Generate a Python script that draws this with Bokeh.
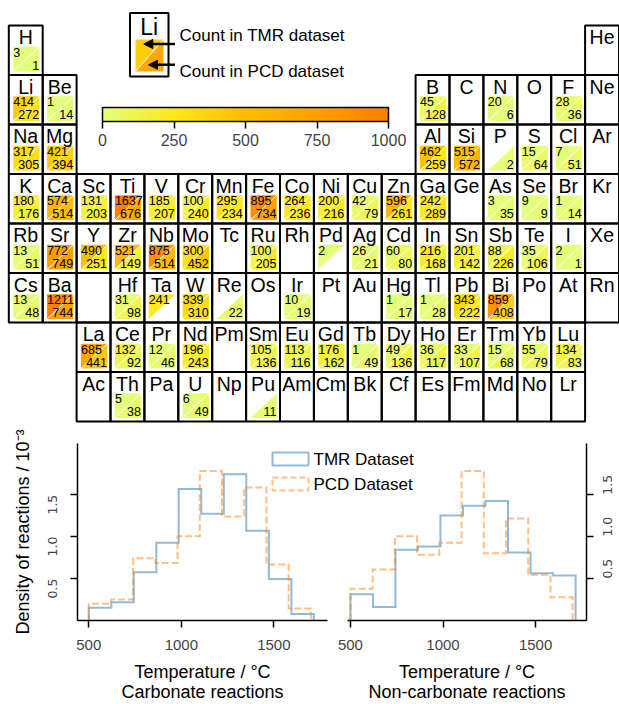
import math
import numpy as np
from bokeh.plotting import figure
from bokeh.models import (Range1d, ColumnDataSource, LinearColorMapper, ColorBar,
                          FixedTicker, Arrow, NormalHead, PrintfTickFormatter)
from bokeh.layouts import column, row
from bokeh.core.properties import value
from bokeh.embed import file_html
from bokeh.resources import INLINE

FONT = "Liberation Sans"

# ---------------- data ----------------
table_rows = [
    ["H"] + [""] * 16 + ["He"],
    ["Li", "Be"] + [""] * 10 + ["B", "C", "N", "O", "F", "Ne"],
    ["Na", "Mg"] + [""] * 10 + ["Al", "Si", "P", "S", "Cl", "Ar"],
    ["K", "Ca", "Sc", "Ti", "V", "Cr", "Mn", "Fe", "Co", "Ni", "Cu", "Zn", "Ga", "Ge", "As", "Se", "Br", "Kr"],
    ["Rb", "Sr", "Y", "Zr", "Nb", "Mo", "Tc", "Ru", "Rh", "Pd", "Ag", "Cd", "In", "Sn", "Sb", "Te", "I", "Xe"],
    ["Cs", "Ba", " ", "Hf", "Ta", "W", "Re", "Os", "Ir", "Pt", "Au", "Hg", "Tl", "Pb", "Bi", "Po", "At", "Rn"],
    ["", "", "La", "Ce", "Pr", "Nd", "Pm", "Sm", "Eu", "Gd", "Tb", "Dy", "Ho", "Er", "Tm", "Yb", "Lu", ""],
    ["", "", "Ac", "Th", "Pa", "U", "Np", "Pu", "Am", "Cm", "Bk", "Cf", "Es", "Fm", "Md", "No", "Lr", ""],
]

tmr_counts = {
    "H": 3, "Li": 414, "Be": 1, "Na": 317, "Mg": 421, "B": 45, "N": 20, "F": 28,
    "Al": 462, "Si": 515, "S": 15, "Cl": 7,
    "K": 180, "Ca": 574, "Sc": 131, "Ti": 1637, "V": 185, "Cr": 100, "Mn": 295, "Fe": 895,
    "Co": 264, "Ni": 200, "Cu": 42, "Zn": 596, "Ga": 242, "As": 3, "Se": 9, "Br": 1,
    "Rb": 13, "Sr": 772, "Y": 490, "Zr": 521, "Nb": 875, "Mo": 300, "Ru": 100, "Pd": 2,
    "Ag": 26, "Cd": 60, "In": 216, "Sn": 201, "Sb": 88, "Te": 35, "I": 2,
    "Cs": 13, "Ba": 1211, "Hf": 31, "Ta": 241, "W": 339, "Ir": 10, "Hg": 1, "Tl": 1,
    "Pb": 343, "Bi": 859,
    "La": 685, "Ce": 132, "Pr": 12, "Nd": 196, "Sm": 105, "Eu": 113, "Gd": 176, "Tb": 1,
    "Dy": 49, "Ho": 36, "Er": 33, "Tm": 15, "Yb": 55, "Lu": 134,
    "Th": 5, "U": 6,
}
pcd_counts = {
    "H": 1, "Li": 272, "Be": 14, "Na": 305, "Mg": 394, "B": 128, "N": 6, "F": 36,
    "Al": 259, "Si": 572, "P": 2, "S": 64, "Cl": 51,
    "K": 176, "Ca": 514, "Sc": 203, "Ti": 676, "V": 207, "Cr": 240, "Mn": 234, "Fe": 734,
    "Co": 236, "Ni": 216, "Cu": 79, "Zn": 261, "Ga": 289, "As": 35, "Se": 9, "Br": 14,
    "Rb": 51, "Sr": 749, "Y": 251, "Zr": 149, "Nb": 514, "Mo": 452, "Ru": 205,
    "Ag": 21, "Cd": 80, "In": 168, "Sn": 142, "Sb": 226, "Te": 106, "I": 1,
    "Cs": 48, "Ba": 744, "Hf": 98, "W": 310, "Re": 22, "Ir": 19, "Hg": 17, "Tl": 28,
    "Pb": 222, "Bi": 408,
    "La": 441, "Ce": 92, "Pr": 46, "Nd": 243, "Sm": 136, "Eu": 116, "Gd": 162, "Tb": 49,
    "Dy": 136, "Ho": 117, "Er": 107, "Tm": 68, "Yb": 79, "Lu": 83,
    "Th": 38, "U": 49, "Pu": 11,
}
colorbar_ticks = [0, 250, 500, 750, 1000]
key_tmr_value = 400
key_pcd_value = 700

series_labels = ["TMR Dataset", "PCD Dataset"]
temp_ticks = [500, 1000, 1500]
density_ticks = [0.5, 1.0, 1.5]
tmr_edges = [500, 622, 743, 865, 986, 1108, 1230, 1351, 1473, 1595, 1716]
pcd_edges = [500, 620, 740, 860, 980, 1100, 1220, 1340, 1460, 1580, 1700]
carb_tmr = [0.153, 0.218, 0.575, 0.927, 1.567, 1.272, 1.743, 1.069, 0.494, 0.077]
carb_pcd = [0.199, 0.249, 0.743, 0.686, 1.004, 1.782, 1.241, 1.586, 0.667, 0.142]
noncarb_tmr = [0.314, 0.161, 0.843, 0.881, 1.253, 1.368, 1.425, 0.812, 0.563, 0.536]
noncarb_pcd = [0.379, 0.609, 1.004, 0.785, 0.927, 1.782, 0.801, 1.215, 0.544, 0.276]

# Wistia colormap anchors
wistia_stops = [0.0, 0.25, 0.5, 0.75, 1.0]
wistia_r = [228, 255, 255, 255, 252]
wistia_g = [255, 232, 189, 160, 127]
wistia_b = [122, 26, 0, 0, 0]
palette = []
for t in np.linspace(0, 1, 256):
    palette.append("#%02x%02x%02x" % (int(round(np.interp(t, wistia_stops, wistia_r))),
                                      int(round(np.interp(t, wistia_stops, wistia_g))),
                                      int(round(np.interp(t, wistia_stops, wistia_b)))))
mapper = LinearColorMapper(palette=palette, low=0, high=1000)

TMR_C, PCD_C = "#1f77b4", "#ff7f0e"

# ---------------- periodic table (also hosts the histogram legend) ----------------
W_T, H_T = 619, 500
TABLE_H = 423
X0, Y0 = 8.3, 25.0
CW, RH = 33.9, 49.5

pt = figure(width=W_T, height=H_T, x_range=Range1d(0, W_T), y_range=Range1d(H_T, 0),
            x_axis_type=None, y_axis_type=None, min_border=0, toolbar_location=None,
            output_backend="svg", outline_line_color=None,
            background_fill_alpha=0, border_fill_alpha=0)

bord = dict(l=[], r=[], t=[], b=[])
sym = dict(x=[], y=[], text=[])
tri = dict(xs=[], ys=[], v=[])
tmr_t = dict(x=[], y=[], text=[])
pcd_t = dict(x=[], y=[], text=[])
diag = dict(x0=[], y0=[], x1=[], y1=[])

for r_i, syms in enumerate(table_rows):
    for c_i, s in enumerate(syms):
        if s == "":
            continue
        cx = X0 + c_i * CW
        ry = Y0 + r_i * RH
        bord["l"].append(cx); bord["r"].append(cx + CW)
        bord["t"].append(ry); bord["b"].append(ry + RH)
        if s.strip() == "":
            continue
        sym["x"].append(cx + CW / 2); sym["y"].append(ry + 11.7); sym["text"].append(s)
        sl, sr, st, sb = cx + 4.4, cx + 30.7, ry + 21.3, ry + 46.0
        t = tmr_counts.get(s)
        q = pcd_counts.get(s)
        if t is not None:
            tri["xs"].append([sl, sr, sl]); tri["ys"].append([st, st, sb]); tri["v"].append(t)
            tmr_t["x"].append(sl); tmr_t["y"].append(ry + 26.8); tmr_t["text"].append(str(t))
        if q is not None:
            tri["xs"].append([sr, sr, sl]); tri["ys"].append([st, sb, sb]); tri["v"].append(q)
            pcd_t["x"].append(sr - 0.3); pcd_t["y"].append(ry + 39.7); pcd_t["text"].append(str(q))
        if t is not None and q is not None:
            diag["x0"].append(sl); diag["y0"].append(sb); diag["x1"].append(sr); diag["y1"].append(st)

pt.patches(xs="xs", ys="ys", source=ColumnDataSource(tri),
           fill_color={"field": "v", "transform": mapper}, line_color=None)
pt.segment(x0="x0", y0="y0", x1="x1", y1="y1", source=ColumnDataSource(diag),
           line_color="white", line_width=1)
pt.text(x="x", y="y", text="text", source=ColumnDataSource(sym), text_font=value(FONT),
        text_font_size=value("19.5px"), text_align="center", text_baseline="middle",
        text_color="black")
pt.text(x="x", y="y", text="text", source=ColumnDataSource(tmr_t), text_font=value(FONT),
        text_font_size=value("12.5px"), text_align="left", text_baseline="middle",
        text_color="black")
pt.text(x="x", y="y", text="text", source=ColumnDataSource(pcd_t), text_font=value(FONT),
        text_font_size=value("12.5px"), text_align="right", text_baseline="middle",
        text_color="black")
pt.quad(left="l", right="r", top="t", bottom="b", source=ColumnDataSource(bord),
        fill_color=None, line_color="black", line_width=2)

# key box
kl, kr, kt, kb = 129.5, 168.0, 12.5, 76.0
ksl, ksr, kst, ksb = 135.0, 163.0, 39.0, 71.0
key_src = ColumnDataSource(dict(xs=[[ksl, ksr, ksl], [ksr, ksr, ksl]],
                                ys=[[kst, kst, ksb], [kst, ksb, ksb]],
                                v=[key_tmr_value, key_pcd_value]))
pt.patches(xs="xs", ys="ys", source=key_src,
           fill_color={"field": "v", "transform": mapper}, line_color=None)
pt.segment(x0=[ksl], y0=[ksb], x1=[ksr], y1=[kst], line_color="white", line_width=1)
pt.quad(left=[kl], right=[kr], top=[kt], bottom=[kb], fill_color=None,
        line_color="black", line_width=2)
pt.text(x=[(kl + kr) / 2], y=[26.8], text=["Li"], text_font=value(FONT),
        text_font_size=value("23px"), text_align="center", text_baseline="middle")
for ys_, xe in ((43.5, 143.3), (64.3, 148.0)):
    pt.add_layout(Arrow(end=NormalHead(size=9, fill_color="black", line_color="black"),
                        x_start=174.5, y_start=ys_, x_end=xe, y_end=ys_,
                        line_width=2.5, line_color="black"))
pt.text(x=[179, 179], y=[34.5, 71.0], text=["Count in TMR dataset", "Count in PCD dataset"],
        text_font=value(FONT), text_font_size=value("17px"), text_align="left",
        text_baseline="middle")

cb = ColorBar(color_mapper=mapper, orientation="horizontal", location=(102, H_T - 148),
              width=286, height=14, padding=0, margin=0,
              ticker=FixedTicker(ticks=colorbar_ticks), major_tick_in=0, major_tick_out=7,
              major_tick_line_color="black", major_tick_line_width=1.5,
              minor_tick_line_color=None, bar_line_color="black", bar_line_width=1.5,
              border_line_color=None, background_fill_alpha=0, label_standoff=5,
              major_label_text_font_size="16px", major_label_text_font=FONT)
pt.add_layout(cb, "center")

# histogram legend keys (this canvas overlaps the top of the histogram row)
leg_top = [452.0, 477.0]
leg_h = 13.0
pt.quad(left=[272.0], right=[308.0], top=[leg_top[0]], bottom=[leg_top[0] + leg_h],
        fill_color=None, line_color=TMR_C, line_alpha=0.5, line_width=2)
pt.quad(left=[272.0], right=[308.0], top=[leg_top[1]], bottom=[leg_top[1] + leg_h],
        fill_color=None, line_color=PCD_C, line_alpha=0.5, line_width=2, line_dash="6 3")
pt.text(x=[313.0, 313.0], y=[leg_top[0] + 6.5, leg_top[1] + 6.5], text=series_labels,
        text_font=value(FONT), text_font_size=value("17px"), text_align="left",
        text_baseline="middle", text_color="black")


# ---------------- histograms ----------------
def step_xy(edges, heights):
    xs, ys = [edges[0]], [0.0]
    for i, h in enumerate(heights):
        xs += [edges[i], edges[i + 1]]
        ys += [h, h]
    xs.append(edges[-1]); ys.append(0.0)
    return xs, ys


def style(p, y_side, subtitle):
    p.grid.visible = False
    for ax in p.axis:
        ax.axis_line_width = 1.5
        ax.major_tick_line_width = 1.5
        ax.major_tick_in = 0
        ax.major_tick_out = 7
        ax.minor_tick_line_color = None
        ax.axis_label_text_font = FONT
        ax.axis_label_text_font_style = "normal"
        ax.axis_label_text_font_size = "18px"
        ax.axis_label_text_color = "black"
    p.xaxis.ticker = FixedTicker(ticks=temp_ticks)
    p.xaxis.major_label_text_font = FONT
    p.xaxis.major_label_text_font_size = "15px"
    p.xaxis.major_label_standoff = 12
    p.xaxis.axis_label = "Temperature / °C\n" + subtitle
    p.xaxis.axis_label_standoff = 9
    p.xaxis.axis_label_text_line_height = 1.0
    p.yaxis.ticker = FixedTicker(ticks=density_ticks)
    p.yaxis.formatter = PrintfTickFormatter(format="%.1f")
    p.yaxis.major_label_orientation = math.pi / 2
    p.yaxis.major_label_text_font = "DejaVu Sans"
    p.yaxis.major_label_text_font_size = "12.5px"
    p.yaxis.major_label_standoff = 18 if y_side == "left" else 14


H_H = 281

pl = figure(width=335, height=H_H, x_range=Range1d(439, 1790), y_range=Range1d(0, 2.11),
            min_border_left=77, min_border_right=8, min_border_top=20, min_border_bottom=78,
            toolbar_location=None, output_backend="svg", outline_line_color=None,
            border_fill_alpha=0, background_fill_alpha=0)
style(pl, "left", "Carbonate reactions")
pl.yaxis.axis_label = "Density of reactions / 10⁻³"
pl.yaxis.axis_label_standoff = 8
x, y = step_xy(tmr_edges, carb_tmr)
pl.line(x, y, line_color=TMR_C, line_alpha=0.5, line_width=2, line_join="miter")
x, y = step_xy(pcd_edges, carb_pcd)
pl.line(x, y, line_color=PCD_C, line_alpha=0.5, line_width=2, line_join="miter", line_dash="7 3")

pr = figure(width=357, height=H_H, x_range=Range1d(484, 1775), y_range=Range1d(0, 2.11),
            y_axis_location="right",
            min_border_left=85, min_border_right=31, min_border_top=20, min_border_bottom=78,
            toolbar_location=None, output_backend="svg", outline_line_color=None,
            border_fill_alpha=0, background_fill_alpha=0, margin=(0, 0, 0, -73))
style(pr, "right", "Non-carbonate reactions")
x, y = step_xy(tmr_edges, noncarb_tmr)
pr.line(x, y, line_color=TMR_C, line_alpha=0.5, line_width=2, line_join="miter")
x, y = step_xy(pcd_edges, noncarb_pcd)
pr.line(x, y, line_color=PCD_C, line_alpha=0.5, line_width=2, line_join="miter", line_dash="7 3")

hist_row = row(pl, pr, margin=(TABLE_H - H_T, 0, 0, 0))
layout = column(pt, hist_row)
open("out.html", "w").write(file_html(layout, INLINE))
